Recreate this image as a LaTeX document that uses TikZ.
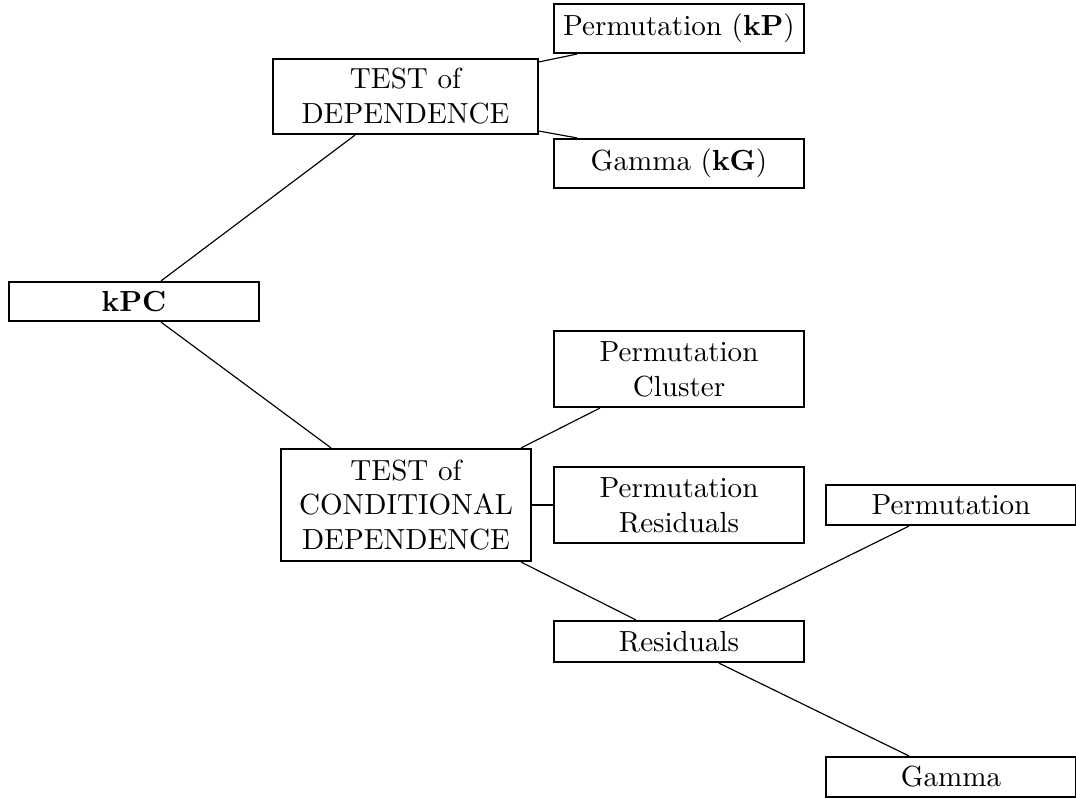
\documentclass[tikz,border=0pt]{standalone}
\usetikzlibrary{calc}
\begin{document}
\begin{tikzpicture}[x=0.344pt,y=-0.344pt,
  box/.style={draw,line width=0.75pt,inner sep=0pt,align=center,
    minimum width=#1*0.344pt},
  box/.default=250,
  link/.style={line width=0.4pt}]
\useasboundingbox (0,0) rectangle (1076,798);
% nodes
\node[box,minimum height=49*0.344pt] (pkp) at (679,28.5) {Permutation (\textbf{kP})};
\node[box=265,minimum height=75*0.344pt] (td) at (405.5,96.5) {TEST of\\DEPENDENCE};
\node[box,minimum height=49*0.344pt] (gkg) at (679,163.5) {Gamma (\textbf{kG})};
\node[box,minimum height=39*0.344pt] (kpc) at (134,301.5) {\textbf{kPC}};
\node[box,minimum height=76*0.344pt] (pc) at (679,369) {Permutation\\Cluster};
\node[box,minimum height=112*0.344pt] (tcd) at (406,505) {TEST of\\CONDITIONAL\\DEPENDENCE};
\node[box,minimum height=76*0.344pt] (pr) at (679,505) {Permutation\\Residuals};
\node[box,minimum height=40*0.344pt] (perm) at (951,505) {Permutation};
\node[box,minimum height=41*0.344pt] (res) at (679,641.5) {Residuals};
\node[box,minimum height=40*0.344pt] (gam) at (951,777) {Gamma};
% connectors
\draw[link] ($(kpc.north)+(27,0)$) -- ($(td.south)+(-50.5,0)$);
\draw[link] ($(kpc.south)+(27,0)$) -- ($(tcd.north)+(-75,0)$);
\draw[link] ($(td.north east)+(0,4)$) -- ($(pkp.south west)+(24,0)$);
\draw[link] ($(td.south east)+(0,-4)$) -- ($(gkg.north west)+(24,0)$);
\draw[link] ($(tcd.north east)+(-11,0)$) -- ($(pc.south west)+(47,0)$);
\draw[link] (tcd.east) -- (pr.west);
\draw[link] ($(tcd.south east)+(-11,0)$) -- ($(res.north west)+(83,0)$);
\draw[link] ($(res.north west)+(166,0)$) -- ($(perm.south west)+(84,0)$);
\draw[link] ($(res.south west)+(166,0)$) -- ($(gam.north west)+(84,0)$);
\end{tikzpicture}
\end{document}
